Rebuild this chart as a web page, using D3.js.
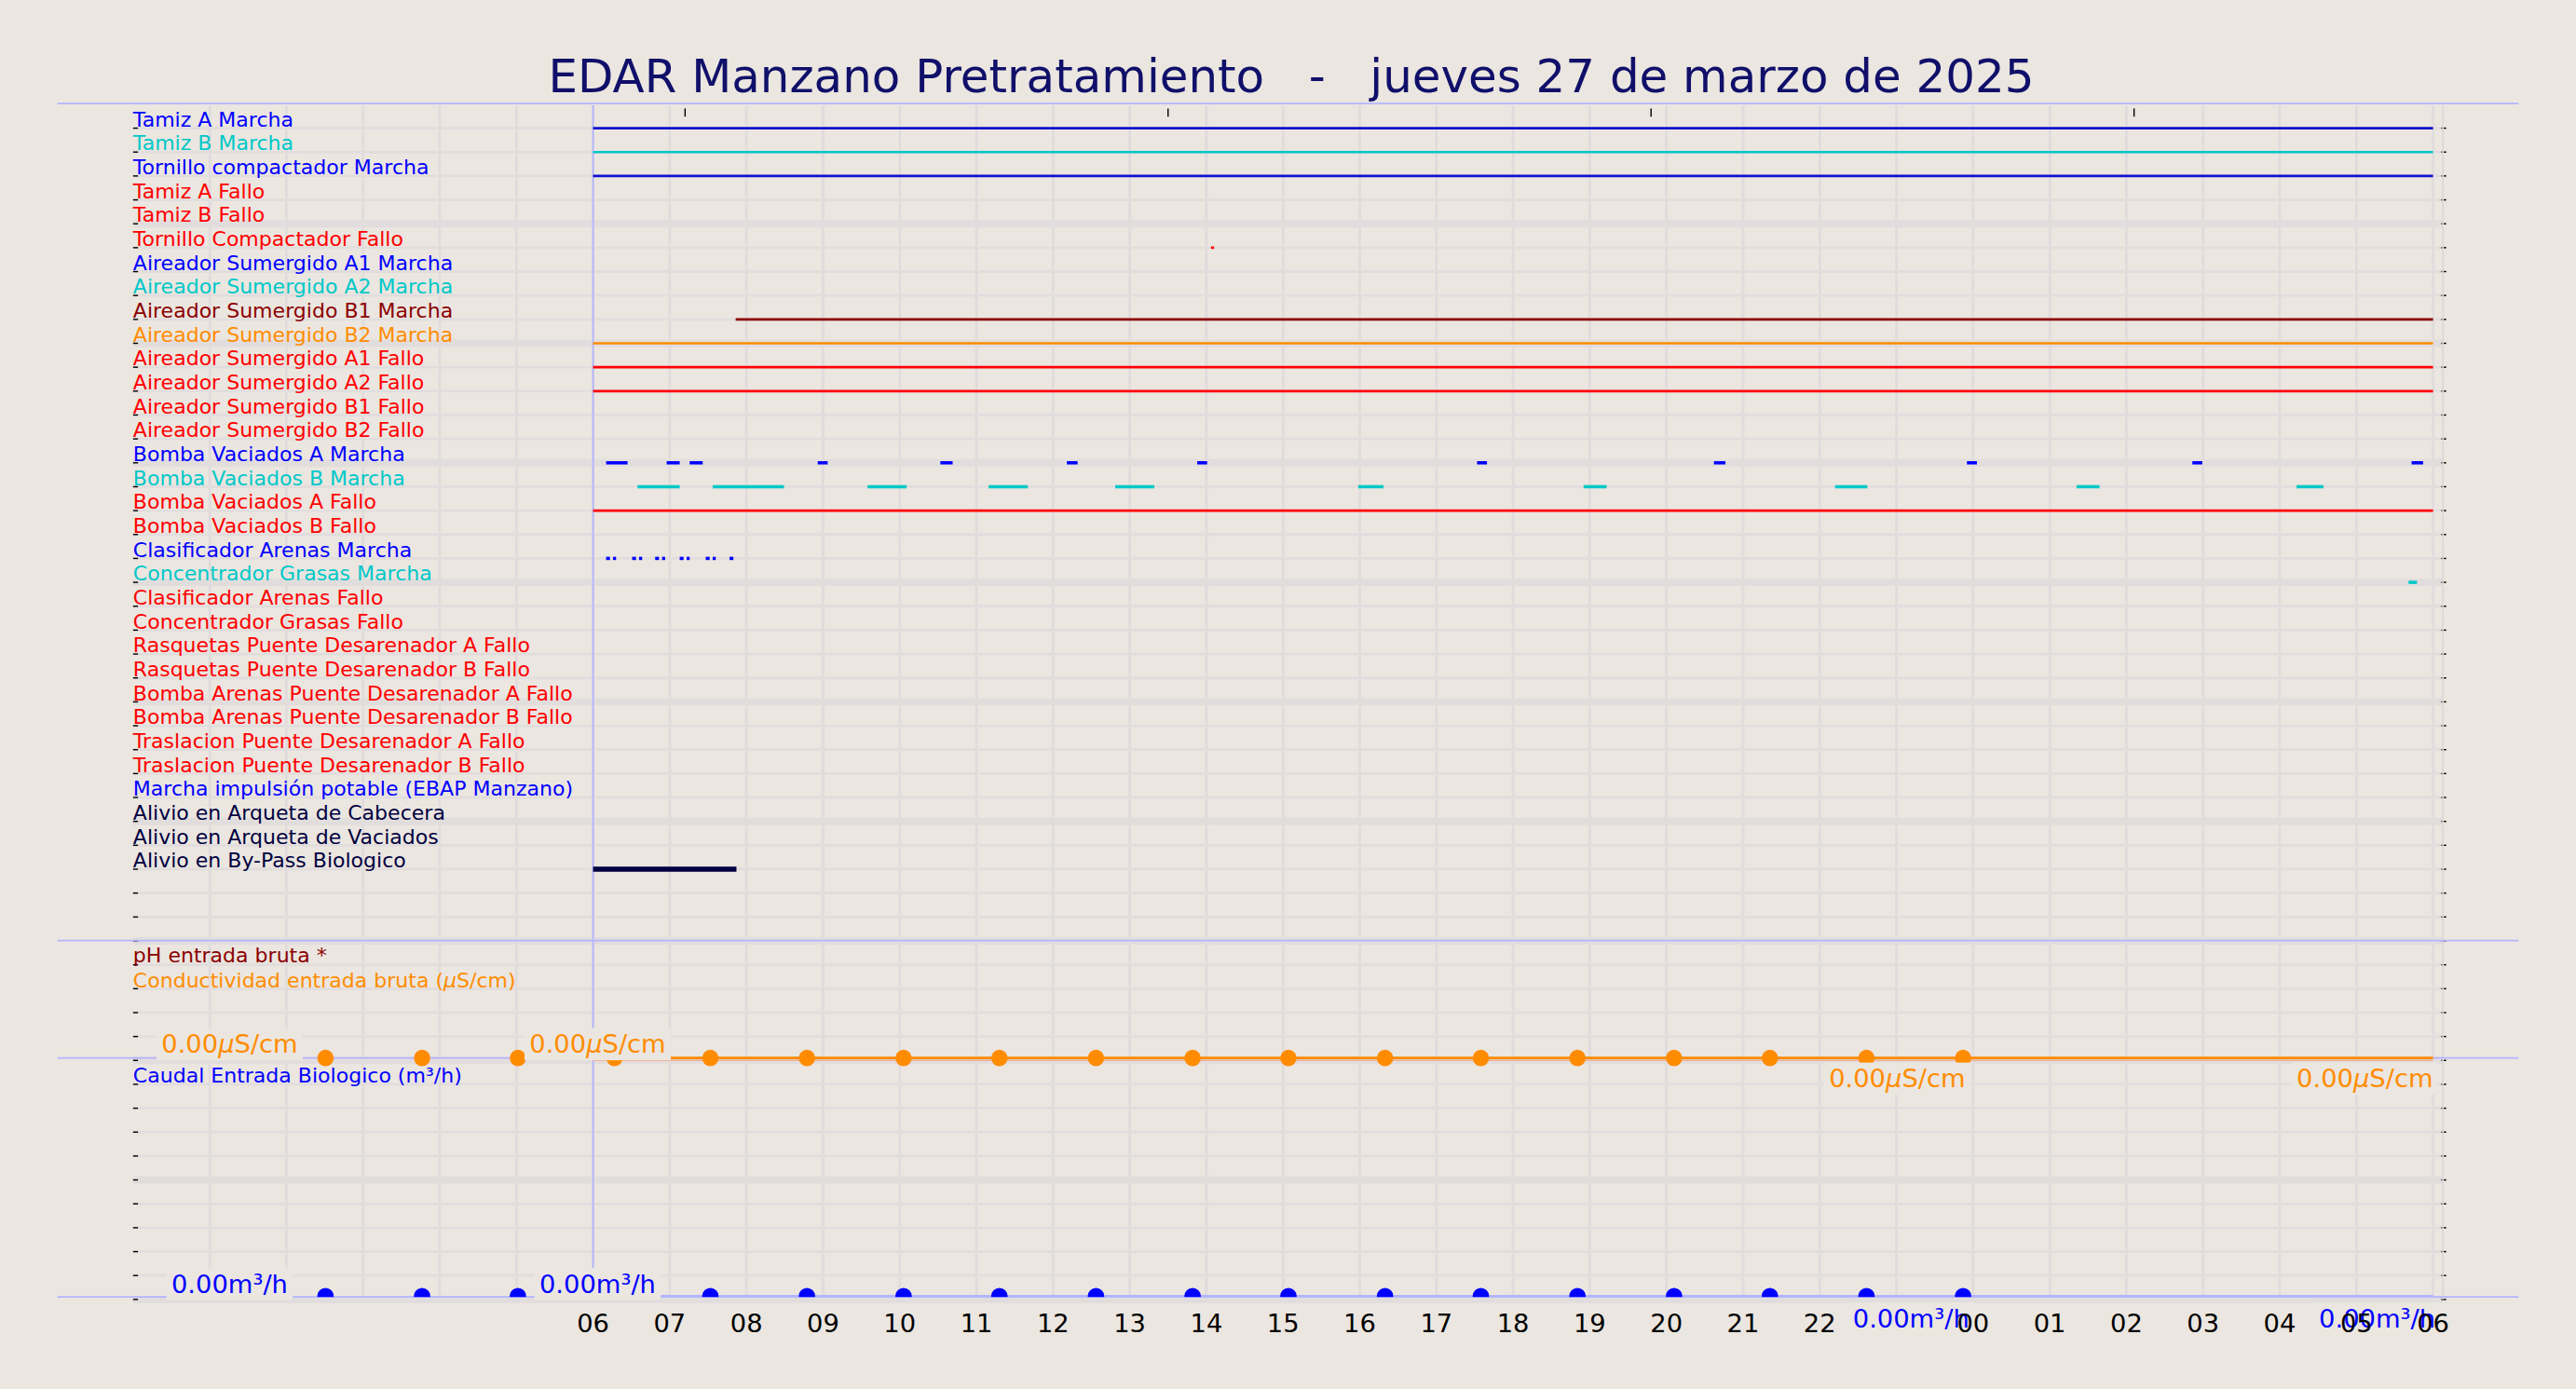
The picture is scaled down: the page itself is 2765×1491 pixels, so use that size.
<!DOCTYPE html>
<html><head><meta charset="utf-8">
<script src="https://cdn.jsdelivr.net/npm/d3@7"></script>
<style>html,body{margin:0;padding:0;background:#ebe6e0;overflow:hidden}</style>
</head><body>
<script>
const title = "EDAR Manzano Pretratamiento   -   jueves 27 de marzo de 2025";
const rowLabels = ["Tamiz A Marcha","Tamiz B Marcha","Tornillo compactador Marcha","Tamiz A Fallo","Tamiz B Fallo","Tornillo Compactador Fallo","Aireador Sumergido A1 Marcha","Aireador Sumergido A2 Marcha","Aireador Sumergido B1 Marcha","Aireador Sumergido B2 Marcha","Aireador Sumergido A1 Fallo","Aireador Sumergido A2 Fallo","Aireador Sumergido B1 Fallo","Aireador Sumergido B2 Fallo","Bomba Vaciados A Marcha","Bomba Vaciados B Marcha","Bomba Vaciados A Fallo","Bomba Vaciados B Fallo","Clasificador Arenas Marcha","Concentrador Grasas Marcha","Clasificador Arenas Fallo","Concentrador Grasas Fallo","Rasquetas Puente Desarenador A Fallo","Rasquetas Puente Desarenador B Fallo","Bomba Arenas Puente Desarenador A Fallo","Bomba Arenas Puente Desarenador B Fallo","Traslacion Puente Desarenador A Fallo","Traslacion Puente Desarenador B Fallo","Marcha impulsión potable (EBAP Manzano)","Alivio en Arqueta de Cabecera","Alivio en Arqueta de Vaciados","Alivio en By-Pass Biologico"];
const rowColors = ["#0000ff","#00c8c8","#0000ff","#ff0000","#ff0000","#ff0000","#0000ff","#00c8c8","#8b0000","#ff8c00","#ff0000","#ff0000","#ff0000","#ff0000","#0000ff","#00c8c8","#ff0000","#ff0000","#0000ff","#00c8c8","#ff0000","#ff0000","#ff0000","#ff0000","#ff0000","#ff0000","#ff0000","#ff0000","#0000ff","#000040","#000040","#000040"];
// segments: [row, startHour, endHour] (hours since 00:00 on day 27)
const segments = [
 [0,6,30],[1,6,30],[2,6,30],[5,14.06,14.1],[8,7.86,30],[9,6,30],[10,6,30],[11,6,30],
 [14,6.17,6.45],[14,6.96,7.13],[14,7.26,7.43],[14,8.93,9.06],[14,10.53,10.69],[14,12.18,12.32],[14,13.88,14.01],[14,17.53,17.66],[14,20.62,20.77],[14,23.92,24.05],[14,26.86,26.99],[14,29.72,29.87],
 [15,6.58,7.13],[15,7.56,8.49],[15,9.58,10.09],[15,11.16,11.67],[15,12.81,13.32],[15,15.98,16.31],[15,18.92,19.22],[15,22.2,22.62],[15,25.35,25.65],[15,28.22,28.57],
 [16,6,30],
 [18,6.17,6.22],[18,6.26,6.3],[18,6.51,6.56],[18,6.6,6.64],[18,6.81,6.86],[18,6.9,6.94],[18,7.13,7.18],[18,7.22,7.26],[18,7.47,7.52],[18,7.56,7.6],[18,7.78,7.83],
 [19,29.68,29.79],
 [31,6,7.87]
];
const tickHours = [6,7,8,9,10,11,12,13,14,15,16,17,18,19,20,21,22,24,25,26,27,28,29,30];
const tickLabels = ["06","07","08","09","10","11","12","13","14","15","16","17","18","19","20","21","22","00","01","02","03","04","05","06"];
const topMarks = [7.2,13.5,19.8,26.1];
const condTimes = [2.51,3.77,5.02,6.28,7.53,8.79,10.05,11.30,12.56,13.82,15.07,16.33,17.58,18.84,20.10,21.35,22.61,23.87];
const condValues = [0,0,0,0,0,0,0,0,0,0,0,0,0,0,0,0,0,0];
const flowValues = [0,0,0,0,0,0,0,0,0,0,0,0,0,0,0,0,0,0];
// [hour, align(-1 start / 1 end), below?]
const condLabelPos = [[0.37,-1,0],[5.17,-1,0],[23.9,1,1],[30.0,1,1]];
const flowLabelPos = [[0.5,-1,0],[5.3,-1,0],[23.95,1,1],[30.03,1,1]];

const W=1568,H=845.5;
const svg=d3.select("body").append("svg").attr("width",2765).attr("height",1491).attr("viewBox",`0 0 ${W} ${H}`)
 .style("font-family","DejaVu Sans");
svg.append("rect").attr("width",W).attr("height",H).attr("fill","#ebe6e0");
const x=d3.scaleLinear().domain([0,30]).range([81,1481]);
const gy=d3.scaleLinear().domain([0,49]).range([78,791]);
const gridIdx=d3.range(50);
svg.append("g").selectAll("line").data(d3.range(1,31)).join("line")
 .attr("x1",d=>x(d)).attr("x2",d=>x(d)).attr("y1",64).attr("y2",791).attr("stroke","#e0dcdc").attr("stroke-width",1.6);
svg.append("g").selectAll("line").data(gridIdx).join("line")
 .attr("x1",81).attr("x2",1487).attr("y1",d=>gy(d)).attr("y2",d=>gy(d))
 .attr("stroke","#e2dddd").attr("stroke-width",d=>d%5===4?4.5:1.6);
svg.append("g").selectAll("line").data(gridIdx).join("line")
 .attr("x1",1486).attr("x2",1489).attr("y1",d=>gy(d)).attr("y2",d=>gy(d)).attr("stroke","#000").attr("stroke-width",0.8);
svg.append("g").selectAll("line").data(gridIdx).join("line")
 .attr("x1",81).attr("x2",84).attr("y1",d=>gy(d)).attr("y2",d=>gy(d)).attr("stroke","#000").attr("stroke-width",0.8);
svg.append("line").attr("x1",1487).attr("x2",1487).attr("y1",64).attr("y2",791).attr("stroke","#ddd8d8").attr("stroke-width",1);
svg.append("g").selectAll("line").data(topMarks).join("line")
 .attr("x1",d=>x(d)).attr("x2",d=>x(d)).attr("y1",66).attr("y2",71).attr("stroke","#000").attr("stroke-width",0.8);
[63,572.5,644,789.5].forEach(yv=>svg.append("line").attr("x1",35).attr("x2",1533).attr("y1",yv).attr("y2",yv).attr("stroke","#b4b4ff").attr("stroke-width",1));
svg.append("line").attr("x1",x(6)).attr("x2",x(6)).attr("y1",64).attr("y2",780).attr("stroke","#b4b4ff").attr("stroke-width",1);
svg.append("text").attr("x",786).attr("y",56).attr("text-anchor","middle").attr("font-size",28.3).attr("fill","#10106a").style("white-space","pre").text(title);
svg.append("g").selectAll("text").data(rowLabels).join("text")
 .attr("x",81).attr("y",(d,i)=>gy(i)-1).attr("font-size",12.5).attr("fill",(d,i)=>rowColors[i]).text(d=>d);
svg.append("g").selectAll("line").data(segments).join("line")
 .attr("x1",d=>x(d[1])).attr("x2",d=>x(d[2])).attr("y1",d=>gy(d[0])).attr("y2",d=>gy(d[0]))
 .attr("stroke",d=>d[0]===0||d[0]===2?"#1010d0":rowColors[d[0]]).attr("stroke-width",d=>d[0]===31?3:(d[0]===14||d[0]===15||d[0]===18||d[0]===19?2:1.5));
svg.append("text").attr("x",81).attr("y",586).attr("font-size",12.5).attr("fill","#8b0000").text("pH entrada bruta *");
const ct=svg.append("text").attr("x",81).attr("y",601).attr("font-size",12.5).attr("fill","#ff8c00");
ct.append("tspan").text("Conductividad entrada bruta (");ct.append("tspan").attr("font-style","italic").text("μ");ct.append("tspan").text("S/cm)");
svg.append("text").attr("x",81).attr("y",659).attr("font-size",12.5).attr("fill","#0000ff").text("Caudal Entrada Biologico (m³/h)");
const yc=d3.scaleLinear().domain([0,1]).range([644,600]);
const yf=d3.scaleLinear().domain([0,1]).range([789,745]);
svg.append("defs").append("clipPath").attr("id","clipb").append("rect").attr("x",81).attr("y",64).attr("width",1406).attr("height",725.5);
svg.append("line").attr("x1",x(6)).attr("x2",x(30)).attr("y1",yc(0)).attr("y2",yc(0)).attr("stroke","#ff8c00").attr("stroke-width",1.5);
svg.append("line").attr("x1",x(6)).attr("x2",x(30)).attr("y1",yc(0)+1.5).attr("y2",yc(0)+1.5).attr("stroke","#f0b090").attr("stroke-width",0.8);
svg.append("g").selectAll("circle").data(condTimes).join("circle")
 .attr("cx",d=>x(d)).attr("cy",(d,i)=>yc(condValues[i])).attr("r",5).attr("fill","#ff8c00");
svg.append("line").attr("x1",x(6)).attr("x2",x(30)).attr("y1",yf(0)).attr("y2",yf(0)).attr("stroke","#b4b4ff").attr("stroke-width",1.5);
svg.append("g").attr("clip-path","url(#clipb)").selectAll("circle").data(condTimes).join("circle")
 .attr("cx",d=>x(d)).attr("cy",(d,i)=>yf(flowValues[i])).attr("r",5).attr("fill","#0000ff");
function valLabel(p,val,unit,yBase,color,italicMu){
  const g=svg.append("g");
  const t=g.append("text").attr("x",x(p[0])).attr("y",yBase+(p[2]?18:-3)).attr("text-anchor",p[1]>0?"end":"start")
   .attr("font-size",15.5).attr("fill",color);
  t.append("tspan").text(val.toFixed(2));
  if(italicMu){t.append("tspan").attr("font-style","italic").text("μ");t.append("tspan").text("S/cm");}
  else t.append("tspan").text(unit);
  const b=t.node().getBBox();
  g.insert("rect","text").attr("x",b.x-3).attr("y",b.y-1).attr("width",b.width+6).attr("height",b.height+2).attr("fill","#ebe6e0");
}
condLabelPos.forEach(p=>valLabel(p,condValues[0],"μS/cm",yc(0),"#ff8c00",true));
flowLabelPos.forEach(p=>valLabel(p,flowValues[0],"m³/h",yf(0)+1,"#0000ff",false));
svg.append("g").selectAll("text").data(tickHours).join("text")
 .attr("x",d=>x(d)).attr("y",811).attr("text-anchor","middle").attr("font-size",15.5).attr("fill","#000").text((d,i)=>tickLabels[i]);
</script>
</body></html>
